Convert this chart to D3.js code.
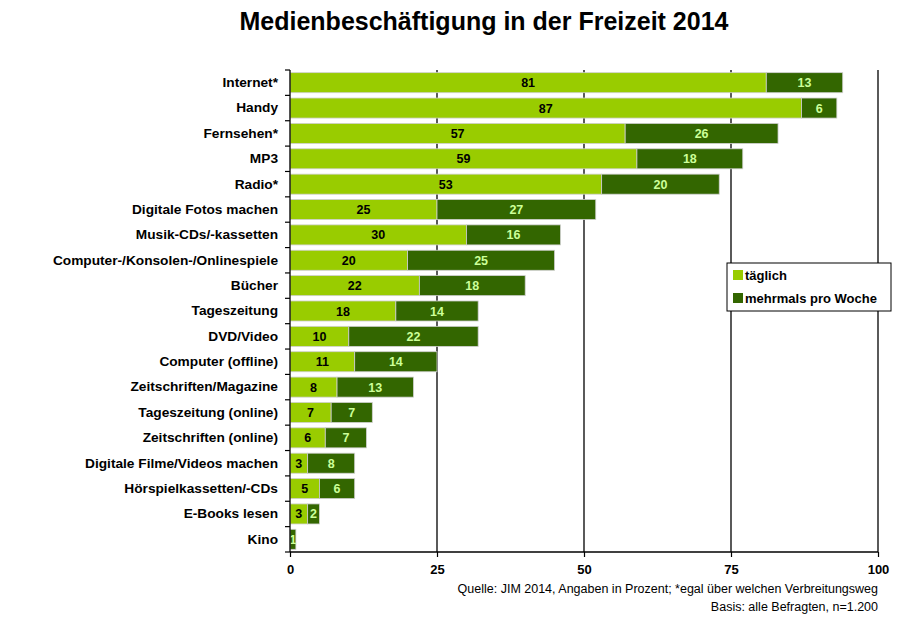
<!DOCTYPE html>
<html><head><meta charset="utf-8">
<script src="https://cdn.jsdelivr.net/npm/d3@7/dist/d3.min.js"></script>
<style>body{margin:0;background:#fff}svg{display:block}text{font-family:"Liberation Sans",Arial,sans-serif}</style>
</head><body><svg id="c" width="923" height="631"></svg>
<script>
const categories=["Internet*","Handy","Fernsehen*","MP3","Radio*","Digitale Fotos machen","Musik-CDs/-kassetten","Computer-/Konsolen-/Onlinespiele","Bücher","Tageszeitung","DVD/Video","Computer (offline)","Zeitschriften/Magazine","Tageszeitung (online)","Zeitschriften (online)","Digitale Filme/Videos machen","Hörspielkassetten/-CDs","E-Books lesen","Kino"];
const taeglich=[81,87,57,59,53,25,30,20,22,18,10,11,8,7,6,3,5,3,0];
const mehrmals=[13,6,26,18,20,27,16,25,18,14,22,14,13,7,7,8,6,2,1];
const xTicks=[0,25,50,75,100];
const seriesNames=["täglich","mehrmals pro Woche"];
const colors=["#99cc00","#336600"];
const labelColors=["#000000","#ccff99"];

const svg=d3.select("#c");
const x=d3.scaleLinear().domain([0,100]).range([290,878]);
const y=d3.scaleBand().domain(categories).range([70,552]).paddingInner(0.21).paddingOuter(0.105);

svg.append("text").attr("x",484).attr("y",30).attr("text-anchor","middle")
  .style("font-family","'Liberation Sans Narrow','Liberation Sans',Arial,sans-serif")
  .style("font-weight","bold").style("font-size","25px").text("Medienbeschäftigung in der Freizeit 2014");

// gridlines
svg.append("g").selectAll("line").data(xTicks.slice(1)).join("line")
  .attr("x1",d=>x(d)).attr("x2",d=>x(d)).attr("y1",70).attr("y2",552)
  .attr("stroke","#000").attr("stroke-width",1.3);

const stack=d3.stack().keys([0,1]).value((d,k)=>k===0?d.t:d.m);
const rows=categories.map((c,i)=>({c,t:taeglich[i],m:mehrmals[i]}));
const layers=stack(rows);
layers.forEach((layer,k)=>{
  const g=svg.append("g");
  g.selectAll("rect").data(layer).join("rect")
    .attr("x",d=>x(d[0])).attr("width",d=>x(d[1])-x(d[0]))
    .attr("y",d=>y(d.data.c)).attr("height",y.bandwidth())
    .attr("fill",colors[k]).attr("stroke","#d0d0d0").attr("stroke-width",0.8);
  g.selectAll("text").data(layer.filter(d=>d[1]-d[0]>0)).join("text")
    .attr("x",d=>(x(d[0])+x(d[1]))/2).attr("y",d=>y(d.data.c)+y.bandwidth()/2+4.5)
    .attr("text-anchor","middle").style("font-weight","bold").style("font-size","12.5px")
    .attr("fill",labelColors[k]).text(d=>d[1]-d[0]);
});

// y axis
const ya=svg.append("g").attr("transform","translate(290,0)")
  .call(d3.axisLeft(y).tickSize(0).tickPadding(12));
ya.select(".domain").attr("stroke","#000").attr("stroke-width",1.3).attr("d","M0,70V552");
ya.selectAll("text").style("font-family","'Liberation Sans',Arial,sans-serif").style("font-weight","bold").style("font-size","13.7px").attr("fill","#000");
// y boundary ticks
const bounds=categories.map(c=>y(c)-y.step()*y.paddingInner()/2).concat([552]);
svg.append("g").selectAll("line").data(bounds).join("line")
  .attr("x1",285).attr("x2",290).attr("y1",d=>d).attr("y2",d=>d).attr("stroke","#000").attr("stroke-width",1.2);

// x axis
const xa=svg.append("g").attr("transform","translate(0,552)")
  .call(d3.axisBottom(x).tickValues(xTicks).tickSize(5).tickPadding(5).tickFormat(d3.format("d")));
xa.select(".domain").remove();
svg.append("line").attr("x1",290).attr("x2",878).attr("y1",552).attr("y2",552).attr("stroke","#000").attr("stroke-width",1.3);
xa.selectAll("line").attr("stroke","#000").attr("stroke-width",1.2);
xa.selectAll("text").style("font-weight","bold").style("font-size","13px").attr("fill","#000").attr("dy","0.9em");

// legend
const lg=svg.append("g");
lg.append("rect").attr("x",727).attr("y",263).attr("width",164).attr("height",48).attr("fill","#fff").attr("stroke","#000").attr("stroke-width",1);
seriesNames.forEach((n,i)=>{
  lg.append("rect").attr("x",733).attr("y",270+i*23).attr("width",10).attr("height",10).attr("fill",colors[i]);
  lg.append("text").attr("x",745).attr("y",280+i*23).style("font-weight","bold").style("font-size","13px").text(n);
});

// source
const src=svg.append("g").style("font-family","'Liberation Sans Narrow','Liberation Sans',Arial,sans-serif").style("font-size","12.5px");
src.append("text").attr("x",878).attr("y",593).attr("text-anchor","end").text("Quelle: JIM 2014, Angaben in Prozent; *egal über welchen Verbreitungsweg");
src.append("text").attr("x",878).attr("y",611).attr("text-anchor","end").text("Basis: alle Befragten, n=1.200");
</script></body></html>
